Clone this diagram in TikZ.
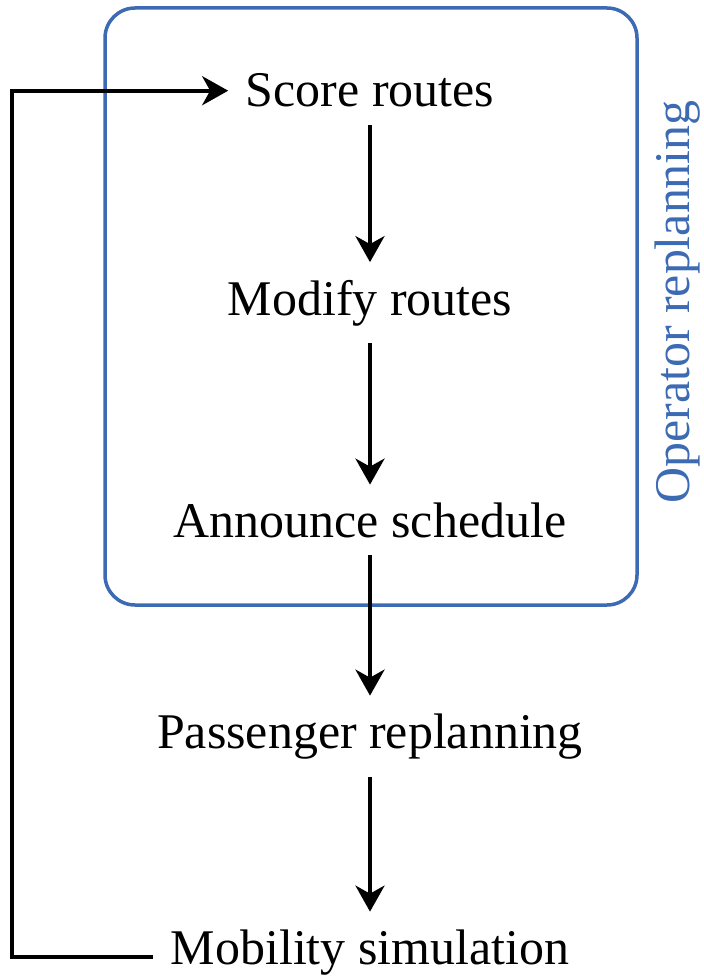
\documentclass[tikz,border=0pt]{standalone}
\usepackage{fontspec}
\setmainfont{Liberation Serif}
\usetikzlibrary{arrows.meta}
\definecolor{opblue}{RGB}{61,107,179}
\begin{document}
\begin{tikzpicture}[x=0.01cm, y=-0.01cm,
		stage/.style={anchor=base, inner sep=0.17cm, font=\fontsize{14.2}{17}\selectfont},
		flow/.style={-{Stealth[length=0.26cm, width=0.29cm, inset=0.08cm]}, line width=0.04cm}]
		\useasboundingbox (0,0) rectangle (703,976);
		
		%operator box
			\draw[opblue, line width=0.035cm, rounded corners=0.3cm] (105,8) rectangle (637,605);
			\node[rotate=90, text=opblue, font=\fontsize{14.2}{17}\selectfont] (oplabel) at (678,302) {Operator replanning};
		
		%stages
			\node[stage] (score)    at (370,107) {Score routes};
			\node[stage] (modify)   at (370,315) {Modify routes};
			\node[stage] (announce) at (370,537) {Announce schedule};
			\node[stage] (passenger) at (370,748) {Passenger replanning};
			\node[stage] (mobility) at (370,964) {Mobility simulation};
			
			\foreach \a/\b in {score/modify, modify/announce, announce/passenger, passenger/mobility}{
				\draw[flow] (\a) -- (\b);
			}
			
		%feedback loop
			\draw[flow] ([yshift=-0.05cm]mobility.west) -- ++(-141,0) |- (score.west);
		\end{tikzpicture}
\end{document}
